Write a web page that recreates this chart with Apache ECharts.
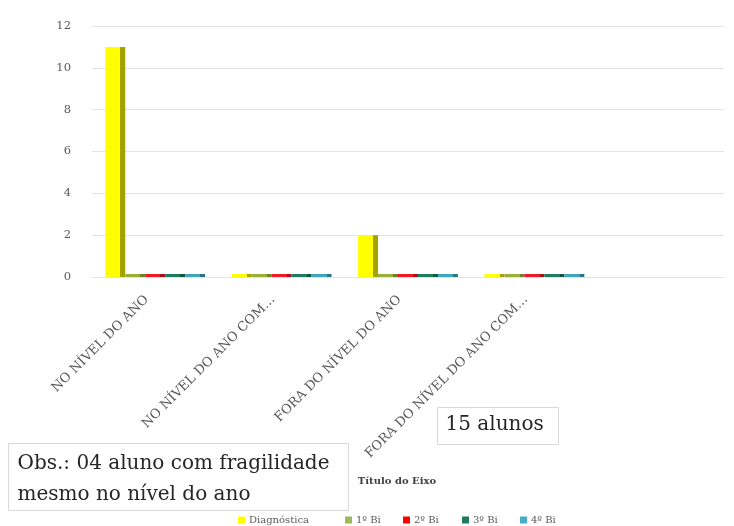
<!DOCTYPE html>
<html>
<head>
<meta charset="utf-8">
<script src="https://cdn.jsdelivr.net/npm/echarts@6/dist/echarts.min.js"></script>
<style>
  html, body { margin: 0; padding: 0; background: #ffffff; }
  #chart { width: 734px; height: 526px; }
</style>
</head>
<body>
<div id="chart"></div>
<script>
// Categories (long names are shortened the same way the spreadsheet shows them)
const categories = ['NO NÍVEL DO ANO', 'NO NÍVEL DO ANO COM…', 'FORA DO NÍVEL DO ANO', 'FORA DO NÍVEL DO ANO COM…'];

// Number of students per assessment
const diagnostica = [11, 0, 2, 0];
const bim1 = [0, 0, 0, 0];
const bim2 = [0, 0, 0, 0];
const bim3 = [0, 0, 0, 0];
const bim4 = [0, 0, 0, 0];

const seriesNames = ['Diagnóstica', '1º Bi', '2º Bi', '3º Bi', '4º Bi'];
const yTicks = { min: 0, max: 12, interval: 2 };

const serif = '"DejaVu Serif", "Liberation Serif", serif';
const grey = '#595959';

// Front face plus a darker right side, like an extruded column
function sided(front, side) {
  return {
    type: 'linear', x: 0, y: 0, x2: 1, y2: 0,
    colorStops: [
      { offset: 0, color: front }, { offset: 0.76, color: front },
      { offset: 0.76, color: side }, { offset: 1, color: side }
    ]
  };
}

const palette = [
  ['#ffff00', '#a3a300'],
  ['#9aae3c', '#6f7e28'],
  ['#ee1c2a', '#a8121c'],
  ['#1d7d5e', '#135640'],
  ['#3fa5b8', '#2a7483']
];
const legendColors = ['#ffff00', '#9bbb59', '#ff0000', '#1f7a5c', '#4bacc6'];
const legendLeft = [233, 340, 398, 457, 515];
const values = [diagnostica, bim1, bim2, bim3, bim4];

const chart = echarts.init(document.getElementById('chart'));
chart.setOption({
  animation: false,
  backgroundColor: '#ffffff',
  grid: { left: 92, right: 10, top: 26, bottom: 249 },
  // one legend block per series so each entry sits where the sheet puts it
  legend: seriesNames.map((n, i) => ({
    data: [{ name: n, itemStyle: { color: legendColors[i] } }],
    left: legendLeft[i], top: 510,
    itemWidth: 7, itemHeight: 7, itemGap: 0,
    icon: 'rect',
    textStyle: { fontFamily: serif, fontSize: 10, color: grey, padding: [0, 0, 0, -1] }
  })),
  xAxis: {
    type: 'category',
    data: categories,
    max: 4,
    axisLine: { show: true, lineStyle: { color: '#e3e3e3' } },
    axisTick: { show: false },
    axisLabel: {
      rotate: 45, interval: 0, margin: 12,
      padding: [0, 12, 0, 0],
      fontFamily: serif, fontSize: 13, color: grey
    },
    name: 'Título do Eixo',
    nameLocation: 'middle',
    nameGap: 199,
    nameTextStyle: { fontFamily: serif, fontSize: 10, fontWeight: 'bold', color: '#404040', padding: [0, 22, 0, 0] }
  },
  yAxis: {
    type: 'value',
    min: yTicks.min, max: yTicks.max, interval: yTicks.interval,
    axisLine: { show: false },
    axisTick: { show: false },
    splitLine: { lineStyle: { color: '#e3e3e3', width: 1 } },
    axisLabel: { margin: 21, padding: [12, 0, 0, 0], fontFamily: serif, fontSize: 11.5, color: grey }
  },
  series: seriesNames.map((name, i) => ({
    name: name,
    type: 'bar',
    data: values[i],
    barGap: '0%',
    barCategoryGap: '21%',
    barMinHeight: 3,
    itemStyle: { color: sided(palette[i][0], palette[i][1]) }
  })),
  graphic: [
    {
      type: 'group', left: 437, top: 407,
      children: [
        { type: 'rect', shape: { x: 0, y: 0, width: 121, height: 37 },
          style: { fill: '#ffffff', stroke: '#d9d9d9', lineWidth: 1 } },
        { type: 'text', x: 8, y: 7,
          style: { text: '15 alunos', font: '20px ' + serif, fill: '#262626' } }
      ]
    },
    {
      type: 'group', left: 8, top: 443,
      children: [
        { type: 'rect', shape: { x: 0, y: 0, width: 340, height: 67 },
          style: { fill: '#ffffff', stroke: '#d9d9d9', lineWidth: 1 } },
        { type: 'text', x: 9, y: 5,
          style: { text: 'Obs.: 04 aluno com fragilidade\nmesmo no nível do ano',
                   font: '20px ' + serif, lineHeight: 31, fill: '#262626' } }
      ]
    }
  ]
});
</script>
</body>
</html>
